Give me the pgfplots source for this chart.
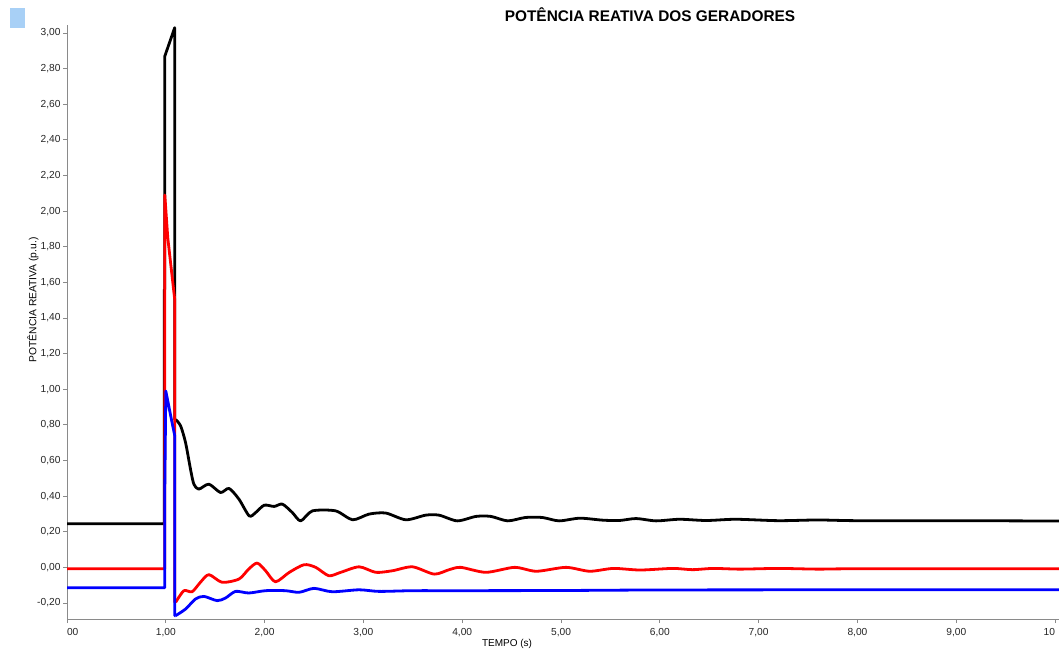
\documentclass[border=0pt]{standalone}
\usepackage{fontspec}
\setmainfont{Liberation Sans}
\usepackage{pgfplots}
\pgfplotsset{compat=1.18}
\definecolor{lb}{HTML}{A8D0F6}
\definecolor{axgray}{HTML}{8A8A8A}
\begin{document}
\begin{tikzpicture}[x=1pt,y=1pt]
\useasboundingbox (0,0) rectangle (1059,651);
\fill[lb] (10,622.7) rectangle (25,643);
\node[font=\bfseries\fontsize{15.4}{18}\selectfont] at (650,636) {POTÊNCIA REATIVA DOS GERADORES};
\node[rotate=90,font=\fontsize{10.3}{12}\selectfont] at (33,351) {POTÊNCIA REATIVA (p.u.)};
\node[font=\fontsize{10}{12}\selectfont] at (507,7) {TEMPO (s)};
\begin{axis}[
  at={(67pt,32pt)}, anchor=south west,
  scale only axis, width=992pt, height=594pt,
  xmin=0, xmax=10.04, ymin=-0.29, ymax=3.045,
  axis x line*=bottom, axis y line*=left,
  axis line style={axgray, line width=0.8pt, -},
  tick style={axgray, line width=0.8pt},
  tick align=outside,
  major tick length=4pt, minor tick length=3pt,
  xtick={0,1,...,10},
  xticklabels={{\rlap{00}},{1,00},{2,00},{3,00},{4,00},{5,00},{6,00},{7,00},{8,00},{9,00},{\llap{10}}},
  ytick={-0.2,0,0.2,...,3.01},
  minor y tick num=1,
  ticklabel style={font=\fontsize{10.2}{12}\selectfont, text=black!85},
  xticklabel style={yshift=-2pt},
  yticklabel style={xshift=1pt, /pgf/number format/use comma, /pgf/number format/fixed, /pgf/number format/fixed zerofill, /pgf/number format/precision=2, /pgf/number format/assume math mode=true},
  clip=false,
  every axis plot/.append style={line width=2.8pt, line join=round},
]
% black: fault transient
\addplot[black] coordinates {
(0,0.245) (0.985,0.245) (0.985,1.56) (0.99,1.56) (0.99,2.87) (1.09,3.03) (1.09,0.83) (1.10,0.83)
};
\addplot[black, smooth, tension=0.45] coordinates {
(1.10,0.83) (1.15,0.794) (1.20,0.70) (1.25,0.551) (1.284,0.467) (1.334,0.439) (1.436,0.467) (1.554,0.42) (1.64,0.443) (1.74,0.383) (1.844,0.289) (1.91,0.308) (1.996,0.349) (2.097,0.342) (2.18,0.355) (2.28,0.308) (2.365,0.261) (2.484,0.317) (2.72,0.317) (2.89,0.267) (3.057,0.299) (3.226,0.305) (3.43,0.267) (3.63,0.293) (3.766,0.293) (3.95,0.261) (4.14,0.286) (4.29,0.286) (4.46,0.261) (4.64,0.28) (4.81,0.28) (4.98,0.261) (5.19,0.276) (5.42,0.265) (5.59,0.263) (5.76,0.274) (5.96,0.261) (6.2,0.27) (6.47,0.263) (6.77,0.27) (7.2,0.262) (7.6,0.266) (8.0,0.262) (9,0.262) (10.04,0.26)
};
% red
\addplot[red] coordinates {
(0,-0.008) (0.99,-0.008) (0.99,2.09) (1.02,1.85) (1.09,1.505) (1.09,-0.196) (1.10,-0.196)
};
\addplot[red, smooth, tension=0.45] coordinates {
(1.10,-0.196) (1.183,-0.131) (1.266,-0.137) (1.35,-0.084) (1.436,-0.041) (1.57,-0.084) (1.74,-0.066) (1.84,-0.009) (1.925,0.024) (2.01,-0.019) (2.11,-0.081) (2.25,-0.028) (2.40,0.015) (2.517,0.0) (2.65,-0.047) (2.77,-0.028) (2.956,0.003) (3.125,-0.028) (3.294,-0.019) (3.497,0.003) (3.716,-0.038) (3.868,-0.013) (3.986,0.0) (4.24,-0.028) (4.53,0.0) (4.75,-0.022) (5.05,0.0) (5.29,-0.022) (5.53,-0.006) (5.80,-0.015) (6.13,-0.006) (6.33,-0.013) (6.54,-0.006) (6.81,-0.01) (7.2,-0.006) (7.6,-0.01) (8,-0.008) (10.04,-0.008)
};
% blue
\addplot[blue] coordinates {
(0,-0.114) (0.99,-0.114) (0.99,0.45) (1.0,0.99) (1.05,0.85) (1.09,0.74) (1.09,-0.271) (1.10,-0.271)
};
\addplot[blue, smooth, tension=0.45] coordinates {
(1.10,-0.271) (1.20,-0.234) (1.30,-0.178) (1.385,-0.163) (1.52,-0.187) (1.605,-0.172) (1.706,-0.135) (1.84,-0.144) (2.01,-0.131) (2.21,-0.131) (2.35,-0.140) (2.50,-0.118) (2.685,-0.137) (2.955,-0.126) (3.158,-0.135) (3.5,-0.131) (4,-0.131) (5,-0.13) (6,-0.127) (8,-0.126) (10.0,-0.126) (10.04,-0.12)
};
\end{axis}
\end{tikzpicture}
\end{document}
